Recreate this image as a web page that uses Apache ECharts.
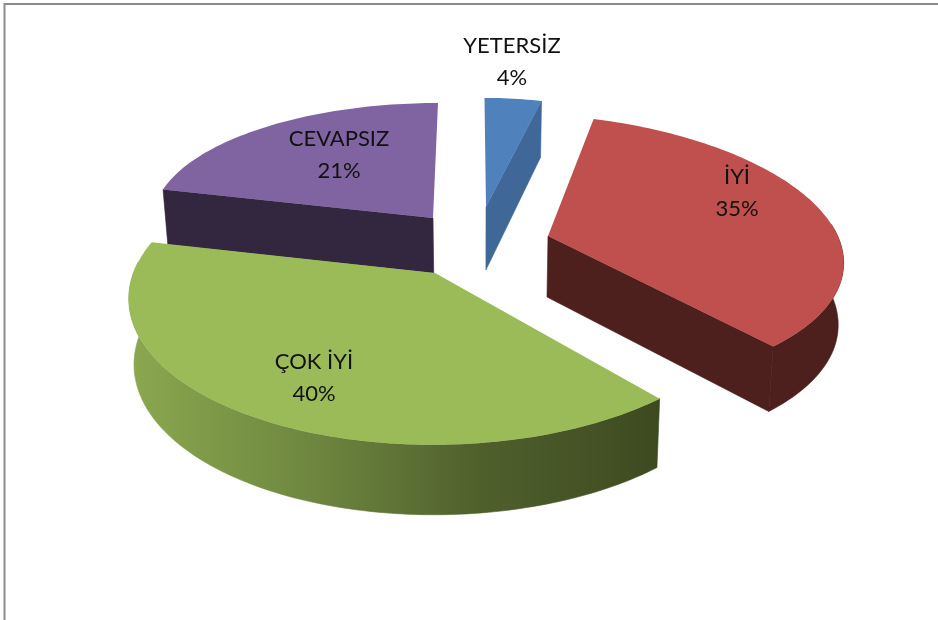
<!DOCTYPE html>
<html><head><meta charset="utf-8">
<style>html,body{margin:0;padding:0;background:#fff}#c{width:938px;height:620px}</style>
<script src="https://cdn.jsdelivr.net/npm/echarts@6/dist/echarts.min.js"></script>
</head><body><div id="c"></div>
<script>
const categories = ['YETERSİZ','İYİ','ÇOK İYİ','CEVAPSIZ'];
const values = [4,35,40,21];
const topColors = ['#4f81bd','#c0504d','#9bbb59','#8064a2'];
const sideColors = ['#3f6798','#4d1f1d',null,'#33263f'];
const greenWall = ['#8ba84f','#6f8840','#4f5f2c','#3d4a20'];
const drawOrder = [3,0,1,2];
// per-slice projection of the unit pie plane on the page
const views = [
 {ax:486,ay:207,a:229,b:1.5,c:-1.5,d:109,p:0,q:0,D0:63,D1:7,lx:512,ly:62},
 {ax:548,ay:236,a:305,b:25.9,c:2,d:135,p:0.1035,q:-0.05,D0:61,D1:5,lx:737,ly:193},
 {ax:435,ay:273,a:307.5,b:0.7,c:-4,d:146,p:0.15,q:0.015,D0:65,D1:5,lx:314,ly:378},
 {ax:433,ay:218,a:280,b:-5,c:0,d:115,p:0,q:0,D0:55,D1:0,lx:339,ly:155}
];
const total = values.reduce((s,v)=>s+v,0);
const starts = []; values.reduce((s,v,i)=>{starts[i]=s;return s+v;},0);

function project(v,ang,r){
  const X=r*Math.sin(ang), Y=-r*Math.cos(ang);
  const w=1-v.p*Y-v.q*X;
  const x=v.ax+(v.a*X+v.b*Y)/w, y=v.ay+(v.c*X+v.d*Y)/w;
  const dep=v.D0+v.D1*Y;
  return {x,y,bx:x+(480-x)*0.015,by:y+dep};
}
function renderItem(params,api){
  const i=api.value(0), val=api.value(1);
  const v=views[i];
  const a0=starts[i]/total*2*Math.PI, a1=(starts[i]+val)/total*2*Math.PI;
  const n=Math.max(8,Math.round(val*3));
  const arc=[], wall=[];
  for(let k=0;k<=n;k++){
    const t=a0+(a1-a0)*k/n, p=project(v,t,1);
    arc.push(p);
    if(-Math.cos(t)>-0.12) wall.push(p);
  }
  const c=project(v,0,0);
  const sideFill=i===2?{type:'linear',x:0,y:0,x2:1,y2:0,colorStops:greenWall.map((col,j)=>({offset:j/(greenWall.length-1),color:col}))}:sideColors[i];
  const faceFill=i===2?greenWall[3]:sideColors[i];
  const first=arc[0], last=arc[n];
  const quad=p=>[[c.x,c.y],[p.x,p.y],[p.bx,p.by],[c.bx,c.by]];
  const children=[];
  if(-Math.sin(a0)>0.01) children.push({type:'polygon',shape:{points:quad(first)},style:{fill:faceFill,stroke:faceFill,lineWidth:0.6}});
  if(Math.sin(a1)>0.01) children.push({type:'polygon',shape:{points:quad(last)},style:{fill:faceFill,stroke:faceFill,lineWidth:0.6}});
  if(wall.length>1) children.push({type:'polygon',shape:{points:wall.map(p=>[p.x,p.y]).concat(wall.slice().reverse().map(p=>[p.bx,p.by]))},style:{fill:sideFill,stroke:sideFill,lineWidth:0.6}});
  children.push({type:'polygon',shape:{points:[[c.x,c.y]].concat(arc.map(p=>[p.x,p.y]))},style:{fill:topColors[i]}});
  children.push({type:'text',x:v.lx,y:v.ly,style:{text:categories[i]+'\n'+val+'%',fill:'#111',font:'22px Lato, "Open Sans", sans-serif',align:'center',verticalAlign:'middle',lineHeight:32},z2:10});
  return {type:'group',children};
}
const chart=echarts.init(document.getElementById('c'),null,{renderer:'canvas'});
chart.setOption({
  animation:false,
  backgroundColor:'#fff',
  graphic:[
    {type:'polyline',shape:{points:[[4.5,620],[4.5,4],[938,4]]},style:{stroke:'#8c8c8c',lineWidth:2,fill:null},silent:true}
  ],
  series:[{type:'custom',coordinateSystem:'none',renderItem,silent:true,
    data:drawOrder.map(i=>[i,values[i],categories[i]])}]
});
</script></body></html>
